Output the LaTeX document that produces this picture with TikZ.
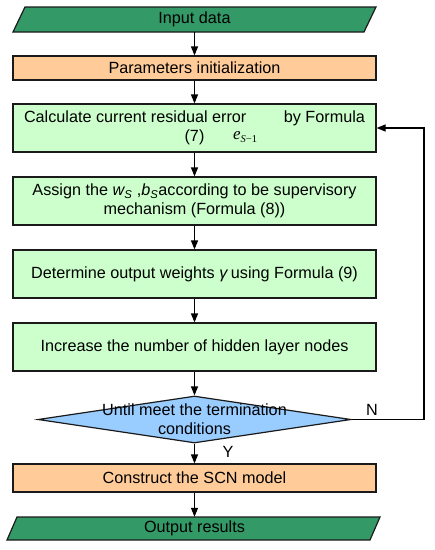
\documentclass[tikz,border=0pt]{standalone}
\usepackage{fontspec}
\setmainfont{Liberation Sans}
\newfontfamily\tmsfont{Liberation Serif}
\usetikzlibrary{arrows.meta,shapes.geometric}
\definecolor{dgreen}{HTML}{339966}
\definecolor{lgreen}{HTML}{CCFFCC}
\definecolor{lorange}{HTML}{FFCC99}
\definecolor{lblue}{HTML}{99CCFF}
\definecolor{edge}{HTML}{1A1A1A}
\begin{document}
\begin{tikzpicture}[x=1pt,y=-1pt,
  font=\fontsize{16.2}{19}\selectfont,
  box/.style={draw=edge, line width=1.2pt, minimum width=363pt, inner sep=0pt, align=center},
  gbox/.style={box, fill=lgreen, minimum height=48pt},
  obox/.style={box, fill=lorange},
  para/.style={fill=dgreen, draw=edge, line width=1.2pt},
  ghost/.style={minimum width=340pt, inner sep=0pt, align=center},
  arr/.style={-{Triangle[length=9pt,width=7pt]}, line width=1.2pt, draw=black},
  lab/.style={inner sep=0pt}
]
\useasboundingbox (0,0) rectangle (435,550);

% Input data
\draw[para] (25,7) -- (376,7) -- (364,32) -- (13,32) -- cycle;
\node[ghost, minimum height=25pt] (in) at (194.5,19.5) {Input data};

\node[obox, minimum height=24pt] (par) at (194.5,68) {Parameters initialization};

\node[gbox] (calc) at (194.5,128) {Calculate current residual error\hspace{33pt} by Formula\\(7)};
\node[lab, anchor=west] (err) at (233,137) {\tmsfont\fontsize{17}{17}\selectfont\itshape e\raisebox{-3pt}{\fontsize{10.5}{10.5}\selectfont S\upshape −1}};

\node[gbox] (asg) at (194.5,201) {Assign the \textit{w\textsubscript{S}} ,\textit{b\textsubscript{S}}according to be supervisory\\mechanism (Formula (8))};

\node[gbox] (det) at (194.5,274) {Determine output weights \textit{γ}\,using Formula (9)};

\node[gbox] (inc) at (194.5,347) {Increase the number of hidden layer nodes};

\node[diamond, draw=edge, line width=1.2pt, fill=lblue, minimum width=313pt, minimum height=47pt, inner sep=0pt] (dia) at (194.5,419.5) {};
\node[align=center, inner sep=0pt] (diatxt) at (dia.center) {Until meet the termination\\conditions};

\node[obox, minimum height=28pt] (con) at (194.5,478) {Construct the SCN model};

% Output results
\draw[para] (17,517) -- (380,517) -- (370,540) -- (7,540) -- cycle;
\node[ghost, minimum height=23pt] (out) at (194.5,528.5) {Output results};

\draw[arr] (in.south) -- (par.north);
\draw[arr] (par.south) -- (calc.north);
\draw[arr] (calc.south) -- (asg.north);
\draw[arr] (asg.south) -- (det.north);
\draw[arr] (det.south) -- (inc.north);
\draw[arr] (inc.south) -- (dia.north);
\draw[arr] (dia.south) -- (con.north);
\draw[arr] (con.south) -- (out.north);

\coordinate (fb) at (424,419.5);
\draw[arr] (dia.east) -- (fb) |- (calc.east);

\node[lab] (nlab) at (372,410) {N};
\node[lab] (ylab) at (228,452) {Y};
\end{tikzpicture}
\end{document}
